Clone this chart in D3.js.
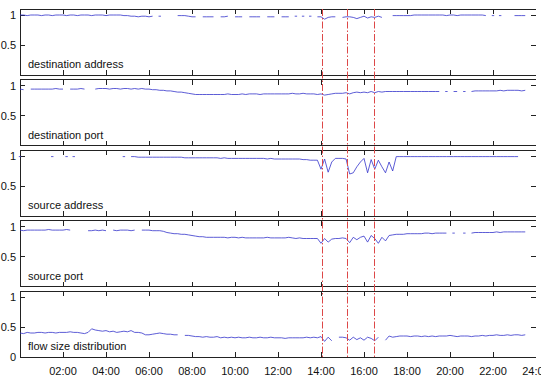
<!DOCTYPE html>
<html><head><meta charset="utf-8">
<script src="https://cdn.jsdelivr.net/npm/d3@7/dist/d3.min.js"></script>
<style>body{margin:0;background:#fff;} svg{display:block;}</style>
</head><body>
<svg id="chart" width="541" height="379"></svg>
<script>
// time axis: 10-minute samples, hours 00:00 .. 23:30
const hours = [
 0,0.1667,0.3333,0.5,0.6667,0.8333, 1,1.1667,1.3333,1.5,1.6667,1.8333,
 2,2.1667,2.3333,2.5,2.6667,2.8333, 3,3.1667,3.3333,3.5,3.6667,3.8333,
 4,4.1667,4.3333,4.5,4.6667,4.8333, 5,5.1667,5.3333,5.5,5.6667,5.8333,
 6,6.1667,6.3333,6.5,6.6667,6.8333, 7,7.1667,7.3333,7.5,7.6667,7.8333,
 8,8.1667,8.3333,8.5,8.6667,8.8333, 9,9.1667,9.3333,9.5,9.6667,9.8333,
 10,10.1667,10.3333,10.5,10.6667,10.8333, 11,11.1667,11.3333,11.5,11.6667,11.8333,
 12,12.1667,12.3333,12.5,12.6667,12.8333, 13,13.1667,13.3333,13.5,13.6667,13.8333,
 14,14.1667,14.3333,14.5,14.6667,14.8333, 15,15.1667,15.3333,15.5,15.6667,15.8333,
 16,16.1667,16.3333,16.5,16.6667,16.8333, 17,17.1667,17.3333,17.5,17.6667,17.8333,
 18,18.1667,18.3333,18.5,18.6667,18.8333, 19,19.1667,19.3333,19.5,19.6667,19.8333,
 20,20.1667,20.3333,20.5,20.6667,20.8333, 21,21.1667,21.3333,21.5,21.6667,21.8333,
 22,22.1667,22.3333,22.5,22.6667,22.8333, 23,23.1667,23.3333,23.5
];

const panelNames = ["destination address","destination port","source address","source port","flow size distribution"];

const destAddress = [
 1.0,1.0,0.99,1.0,1.0,1.0,
 0.99,1.0,1.0,0.99,1.0,1.0,
 1.0,0.99,1.0,1.0,0.99,1.0,
 1.0,1.0,0.99,1.0,1.0,1.0,
 0.99,1.0,1.0,1.0,1.0,0.99,
 0.99,0.98,0.98,0.97,0.98,0.98,
 0.97,0.98,null,0.98,null,null,
 null,null,0.99,0.99,0.99,0.98,
 0.97,0.97,null,0.97,0.97,0.97,
 0.97,null,0.97,0.97,0.98,null,
 0.97,0.97,0.97,null,0.97,0.97,
 0.97,0.97,null,0.97,0.97,0.97,
 null,0.97,0.97,0.97,null,0.98,
 null,0.98,null,0.98,null,0.97,
 0.97,0.93,0.96,0.97,0.97,null,
 0.96,0.97,0.97,0.96,0.94,0.96,
 0.98,0.95,0.97,0.96,0.98,0.96,
 null,null,0.99,0.99,0.99,0.99,
 0.99,0.99,1.0,1.0,1.0,1.0,
 1.0,1.0,1.0,1.0,1.0,0.99,
 1.0,1.0,0.99,1.0,1.0,1.0,
 1.0,1.0,1.0,1.0,0.99,null,
 0.99,null,0.99,null,null,null,
 0.99,0.99,0.99,0.99
];

const destPort = [
 0.94,0.93,null,0.94,0.94,0.94,
 0.94,0.94,0.94,0.94,0.95,0.94,
 0.94,null,0.94,0.94,0.94,0.95,
 0.94,null,null,0.94,0.95,0.95,
 0.95,0.94,0.95,0.95,0.94,0.95,
 0.95,0.94,0.95,0.94,0.95,0.94,
 0.94,0.93,0.93,0.92,0.92,0.91,
 0.91,0.9,0.89,0.89,0.88,0.87,
 0.86,0.85,0.85,0.85,0.85,0.85,
 0.85,0.85,0.85,0.85,0.86,0.85,
 0.85,0.85,0.86,0.85,0.86,0.86,
 0.86,0.85,0.86,0.86,0.86,0.86,
 0.86,0.86,0.86,0.86,0.87,0.86,
 0.86,0.87,0.86,0.86,0.86,0.85,
 0.86,0.84,0.85,0.86,0.87,0.87,
 0.87,0.88,0.86,0.88,0.89,0.88,
 0.89,0.88,0.9,0.88,0.9,0.89,
 0.9,0.9,0.9,0.9,0.9,0.9,
 0.9,0.9,0.9,0.9,0.9,0.9,
 0.9,0.9,0.9,0.9,null,0.9,
 null,0.9,0.9,null,0.9,null,
 0.9,0.91,0.91,0.91,0.91,0.91,
 0.91,0.91,0.92,0.91,0.92,0.92,
 0.92,0.92,0.91,0.92
];

const srcAddress = [
 0.99,null,null,null,null,null,
 null,null,null,0.99,null,null,
 null,0.99,null,0.99,null,null,
 null,null,null,null,null,null,
 null,null,null,null,null,0.99,
 null,0.99,0.99,0.98,0.98,0.98,
 0.98,0.98,0.98,0.98,0.98,0.98,
 0.98,0.98,0.98,0.98,0.97,0.97,
 0.97,0.97,0.97,0.97,0.97,0.97,
 0.97,0.97,0.96,0.97,0.96,0.96,
 0.96,0.96,0.96,0.96,0.96,0.96,
 0.96,0.96,0.96,0.95,0.96,0.95,
 0.95,0.95,0.95,0.95,0.95,0.95,
 0.95,0.94,0.94,0.93,0.93,0.93,
 0.78,0.95,0.73,0.9,0.96,0.96,
 0.96,0.95,0.7,0.72,0.82,0.9,
 0.96,0.72,0.94,0.78,0.93,0.82,
 0.72,0.9,0.75,0.99,0.99,0.99,
 0.99,0.99,0.99,0.99,0.99,0.99,
 0.99,0.99,0.99,0.99,0.99,0.99,
 0.99,0.99,0.99,0.99,0.99,0.99,
 0.99,0.99,0.99,0.99,0.99,0.99,
 0.99,0.99,0.99,0.99,0.99,0.99,
 0.99,0.99,null,null
];

const srcPort = [
 0.94,0.93,0.94,0.94,0.94,0.94,
 0.94,0.94,0.95,0.94,0.94,0.94,
 0.94,0.95,0.94,null,null,null,
 null,0.93,0.93,0.94,0.93,0.94,
 0.93,null,0.94,0.93,0.94,0.94,
 0.94,0.93,0.94,null,0.94,0.94,
 0.94,0.93,0.93,0.93,0.92,0.9,
 0.89,0.88,0.88,0.87,0.87,0.86,
 0.85,0.84,0.83,0.83,0.82,0.82,
 0.82,0.82,0.82,0.82,0.81,0.82,
 0.82,0.81,0.82,0.81,0.81,0.81,
 0.81,0.81,0.81,0.82,0.81,0.81,
 0.81,0.81,0.81,0.82,0.81,0.8,
 0.81,0.8,0.8,0.8,0.8,0.8,
 0.72,0.8,0.74,0.79,0.8,0.8,
 0.81,0.8,0.73,0.82,0.78,0.82,
 0.84,0.74,0.85,0.8,0.72,0.82,
 0.76,0.85,0.86,0.87,0.87,0.87,
 0.88,0.88,0.88,0.88,0.88,0.89,
 0.89,0.88,0.89,0.89,0.89,0.89,
 null,0.89,null,null,0.89,null,
 0.89,0.9,0.9,0.9,0.9,0.9,
 0.9,0.91,0.9,0.91,0.91,0.91,
 0.91,0.91,0.91,0.91
];

const flowSize = [
 0.4,0.39,0.41,0.4,0.4,0.41,
 0.41,0.4,0.41,0.41,0.4,0.41,
 0.41,0.41,0.42,0.41,0.41,0.4,
 0.39,0.41,0.47,0.45,0.44,0.43,
 0.44,0.42,0.43,0.41,0.42,0.43,
 0.42,0.44,0.41,0.41,0.4,0.37,
 0.37,0.38,0.39,0.4,0.39,0.38,
 0.38,0.37,0.37,null,0.36,0.36,
 0.35,0.34,0.34,0.33,0.34,0.33,
 0.33,0.34,0.32,0.33,0.32,0.33,
 0.32,0.33,0.32,0.32,0.33,0.32,
 0.32,0.33,0.32,0.32,0.33,0.32,
 0.32,0.32,0.31,0.32,0.32,0.32,
 0.32,0.32,0.33,0.32,0.33,0.32,
 0.34,0.26,0.33,0.27,null,0.33,
 0.33,0.32,0.28,0.33,0.29,0.32,
 0.28,0.33,0.31,0.27,0.33,null,
 0.28,0.35,0.33,0.34,0.35,0.35,
 0.35,0.34,0.35,0.35,0.34,0.35,
 0.34,0.35,0.34,0.35,0.35,0.35,
 0.36,0.35,0.34,0.35,0.35,0.35,
 0.34,0.35,0.35,0.36,0.35,0.36,
 0.36,0.37,0.36,0.36,0.37,0.36,
 0.37,0.37,0.36,0.37
];

const seriesList = [destAddress, destPort, srcAddress, srcPort, flowSize];
const eventHours = [14.06, 15.23, 16.46];
const xTickHours = [2,4,6,8,10,12,14,16,18,20,22,24];
const xTickLabels = ["02:00","04:00","06:00","08:00","10:00","12:00","14:00","16:00","18:00","20:00","22:00","24:00"];
const yTickValues = [0, 0.5, 1];
const yTickLabels = ["0","0.5","1"];

// layout
const left = 20, right = 536;
const panelTop0 = 9, pitch = 70.5, panelH = 66;
const svg = d3.select("#chart");
const font = "Liberation Sans, Arial, Helvetica, sans-serif";
const lineColor = "#3434cc";

const x = d3.scaleLinear().domain([0,24]).range([left,right]);

seriesList.forEach((vals, p) => {
  const top = panelTop0 + p*pitch;
  const bottom = top + panelH;
  const y = d3.scaleLinear().domain([0,1.1]).range([bottom, top]);
  const g = svg.append("g");

  const fr = g.append("g").attr("stroke","#222").attr("stroke-width",1).attr("shape-rendering","crispEdges");
  fr.append("line").attr("x1",left).attr("x2",left).attr("y1",top).attr("y2",bottom);
  fr.append("line").attr("x1",left).attr("x2",right).attr("y1",top).attr("y2",top);
  fr.append("line").attr("x1",left).attr("x2",right).attr("y1",bottom).attr("y2",bottom);

  xTickHours.slice(0,-1).forEach(h => {
    fr.append("line").attr("x1",x(h)).attr("x2",x(h)).attr("y1",bottom).attr("y2",bottom-5);
    fr.append("line").attr("x1",x(h)).attr("x2",x(h)).attr("y1",top).attr("y2",top+5);
  });
  yTickValues.forEach((v,i) => {
    if (v === 0) return;
    fr.append("line").attr("x1",left).attr("x2",left+5).attr("y1",y(v)).attr("y2",y(v));
    fr.append("line").attr("x1",right-5).attr("x2",right).attr("y1",y(v)).attr("y2",y(v));
  });
  yTickValues.forEach((v,i) => {
    if (v === 0 && p !== seriesList.length-1) return;
    g.append("text").attr("x",16).attr("y",y(v)+4).attr("text-anchor","end")
      .attr("font-family",font).attr("font-size",11).attr("fill","#111").text(yTickLabels[i]);
  });

  const data = hours.map((h,i) => ({h, v: vals[i]}));
  const line = d3.line().defined(d => d.v != null).x(d => x(d.h)).y(d => y(d.v));
  g.append("path").datum(data).attr("d",line).attr("fill","none")
    .attr("stroke",lineColor).attr("stroke-width",0.8);
  data.forEach((d,i) => {
    if (d.v == null) return;
    const prev = i>0 ? data[i-1].v : null, next = i<data.length-1 ? data[i+1].v : null;
    if (prev == null && next == null) {
      g.append("line").attr("x1",x(d.h)-1.2).attr("x2",x(d.h)+1.2).attr("y1",y(d.v)).attr("y2",y(d.v))
        .attr("stroke",lineColor).attr("stroke-width",0.8);
    }
  });

  g.append("text").attr("x",28).attr("y",bottom-7).attr("font-family",font).attr("font-size",11)
    .attr("fill","#111").text(panelNames[p]);

  if (p === seriesList.length-1) {
    xTickHours.forEach((h,i) => {
      g.append("text").attr("x",x(h)).attr("y",375).attr("text-anchor","middle")
        .attr("font-family",font).attr("font-size",11).attr("fill","#111").text(xTickLabels[i]);
    });
  }
});

const yTop = panelTop0, yBot = panelTop0 + 4*pitch + panelH;
eventHours.forEach(h => {
  const xp = Math.round(x(h)) + 0.5;
  svg.append("line").attr("x1",xp).attr("x2",xp).attr("y1",yTop).attr("y2",yBot)
    .attr("stroke","#dd4848").attr("stroke-width",1).attr("stroke-dasharray","7,2,1.5,2");
});
</script>
</body></html>
